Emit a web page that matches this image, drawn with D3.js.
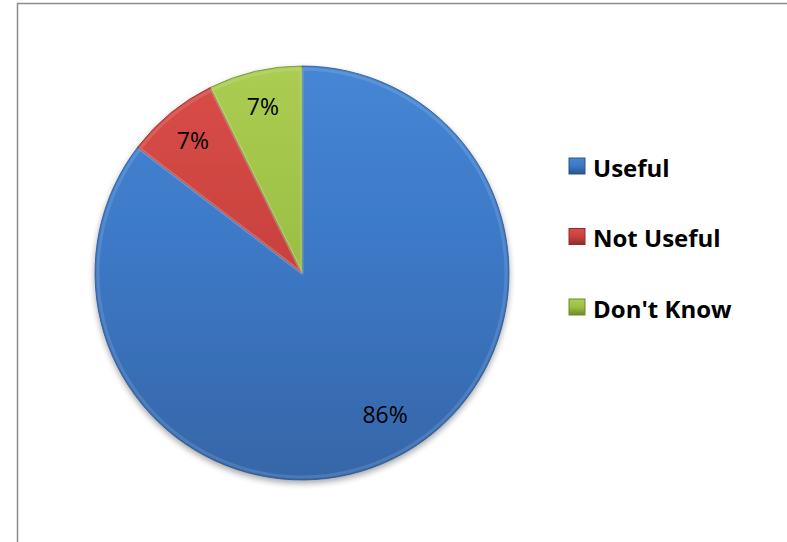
<!DOCTYPE html>
<html>
<head>
<meta charset="utf-8">
<script src="https://cdn.jsdelivr.net/npm/d3@7"></script>
<style>
  body { margin: 0; background: #fff; }
  svg { display: block; }
</style>
</head>
<body>
<div id="chart-container"></div>
<script>
const categories = ["Useful", "Not Useful", "Don't Know"];
const shares = [85.4, 7.3, 7.3];
const percentLabels = ["86%", "7%", "7%"];

const colors = ["#3c78c6", "#c9423e", "#9cc045"];
const colorsLight = ["#4686d4", "#da4d49", "#aacd52"];
const colorsDark = ["#3666a8", "#b03a37", "#8aab3a"];
const colorsEdge = ["#2b5488", "#8e2c2a", "#6d8a2c"];

const chartWidth = 787;
const chartHeight = 542;
const cx = 302;
const cy = 273;
const radius = 207;

const data = categories.map((c, i) => ({name: c, value: shares[i], label: percentLabels[i], i: i}));

const chart = d3.select("#chart-container").append("svg")
    .attr("width", chartWidth)
    .attr("height", chartHeight);

const defs = chart.append("defs");

// Soft shadow under the pie.
const shadow = defs.append("filter")
    .attr("id", "shadow")
    .attr("x", "-10%").attr("y", "-10%")
    .attr("width", "120%").attr("height", "125%");
shadow.append("feGaussianBlur").attr("in", "SourceAlpha").attr("stdDeviation", 3);
shadow.append("feOffset").attr("dx", 0).attr("dy", 3).attr("result", "off");
shadow.append("feComponentTransfer").append("feFuncA").attr("type", "linear").attr("slope", 0.35);
const merge = shadow.append("feMerge");
merge.append("feMergeNode");
merge.append("feMergeNode").attr("in", "SourceGraphic");

// Vertical gradients: one per slice (pie coords) and one per legend box.
colors.forEach((c, i) => {
    const g = defs.append("linearGradient")
        .attr("id", "grad" + i)
        .attr("x1", 0).attr("y1", 0).attr("x2", 0).attr("y2", 1);
    g.append("stop").attr("offset", "0%").attr("stop-color", colorsLight[i]);
    g.append("stop").attr("offset", "50%").attr("stop-color", c);
    g.append("stop").attr("offset", "100%").attr("stop-color", colorsEdge[i]);

    const gu = defs.append("linearGradient")
        .attr("id", "gradPie" + i)
        .attr("gradientUnits", "userSpaceOnUse")
        .attr("x1", 0).attr("y1", -radius).attr("x2", 0).attr("y2", radius);
    gu.append("stop").attr("offset", "0%").attr("stop-color", colorsLight[i]);
    gu.append("stop").attr("offset", "45%").attr("stop-color", c);
    gu.append("stop").attr("offset", "100%").attr("stop-color", colorsDark[i]);
});

// Chart frame (top and left edges visible).
chart.append("line")
    .attr("x1", 17).attr("y1", 3.5).attr("x2", chartWidth).attr("y2", 3.5)
    .attr("stroke", "#8c8c8c").attr("stroke-width", 1.5);
chart.append("line")
    .attr("x1", 17.5).attr("y1", 3).attr("x2", 17.5).attr("y2", chartHeight)
    .attr("stroke", "#8c8c8c").attr("stroke-width", 1.5);

const pie = d3.pie()
    .sort(null)
    .value(d => d.value);

const arcs = pie(data);

const arc = d3.arc()
    .innerRadius(0)
    .outerRadius(radius);

const bevelArc = d3.arc()
    .innerRadius(0)
    .outerRadius(radius - 3);

const labelArc = d3.arc()
    .innerRadius(radius * 0.83)
    .outerRadius(radius * 0.83);

const pieGroup = chart.append("g")
    .attr("transform", `translate(${cx}, ${cy})`);

const slices = pieGroup.append("g")
    .attr("filter", "url(#shadow)");

slices.selectAll("path.slice")
    .data(arcs)
    .enter()
    .append("path")
    .attr("class", "slice")
    .attr("d", arc)
    .attr("fill", d => `url(#gradPie${d.data.i})`)
    .attr("stroke", d => colorsEdge[d.data.i])
    .attr("stroke-width", 0.8);

// Light bevel highlight along the rim.
pieGroup.selectAll("path.bevel")
    .data(arcs)
    .enter()
    .append("path")
    .attr("class", "bevel")
    .attr("d", bevelArc)
    .attr("fill", "none")
    .attr("stroke", "#ffffff")
    .attr("stroke-opacity", 0.12)
    .attr("stroke-width", 3);

// Percent labels.
pieGroup.selectAll("text.pct")
    .data(arcs)
    .enter()
    .append("text")
    .attr("class", "pct")
    .attr("transform", d => {
        const [x, y] = labelArc.centroid(d);
        return d.data.i === 0 ? `translate(${x + 7}, ${y - 13})` : `translate(${x}, ${y})`;
    })
    .attr("text-anchor", "middle")
    .attr("dominant-baseline", "central")
    .attr("font-family", "'Open Sans', sans-serif")
    .attr("font-size", 23)
    .attr("fill", "#000")
    .text(d => d.data.label);

// Legend.
const legendY = d3.scalePoint()
    .domain(categories)
    .range([166, 307]);

const legend = chart.append("g")
    .selectAll("g")
    .data(data)
    .enter()
    .append("g")
    .attr("transform", d => `translate(569, ${legendY(d.name)})`);

legend.append("rect")
    .attr("x", 0).attr("y", -8)
    .attr("width", 16).attr("height", 16)
    .attr("fill", d => `url(#grad${d.i})`)
    .attr("stroke", d => colorsEdge[d.i])
    .attr("stroke-width", 1);

legend.append("text")
    .attr("x", 24)
    .attr("y", 1)
    .attr("dominant-baseline", "central")
    .attr("font-family", "'Open Sans', sans-serif")
    .attr("font-weight", "bold")
    .attr("font-size", 24)
    .attr("fill", "#000")
    .text(d => d.name);
</script>
</body>
</html>
